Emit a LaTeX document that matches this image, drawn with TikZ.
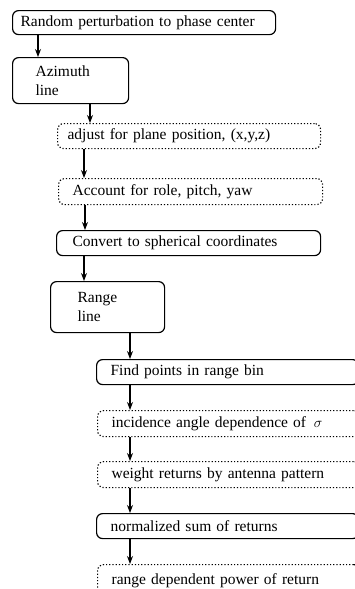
\documentclass[tikz,border=0pt]{standalone}
\usepackage{fontspec}
\setmainfont{Liberation Serif}
\usetikzlibrary{arrows.meta}
\tikzset{
  solidbox/.style={draw, line width=1.2pt, rounded corners=6pt, anchor=north west,
    align=left, inner ysep=0pt, font=\fontsize{15.5}{19}\selectfont},
  dotbox/.style={solidbox, dotted, line width=1.2pt},
  arr/.style={line width=1.2pt, -{Stealth[length=8pt,width=6pt]}}
}
\begin{document}
\begin{tikzpicture}[x=1pt,y=-1pt]
\clip (0,0) rectangle (355,589);
\fill[white] (0,0) rectangle (355,589);
% upper chain: per-line processing
\node[solidbox, minimum width=263, minimum height=24, text width=247, inner xsep=8]
  (pert) at (12,10) {Random perturbation to phase center};
\node[solidbox, minimum width=106, minimum height=46, text width=70, inner xsep=23]
  (azim) at (12,57) {Azimuth\\line};
\node[dotbox, minimum width=263, minimum height=25, text width=243, inner xsep=10]
  (plane) at (57,123) {adjust for plane position, (x,y,z)};
\node[dotbox, minimum width=264, minimum height=26, text width=236, inner xsep=14]
  (att) at (58,178) {Account for role, pitch, yaw};
\node[solidbox, minimum width=264, minimum height=25, text width=232, inner xsep=16]
  (sph) at (56,230) {Convert to spherical coordinates};
\node[solidbox, minimum width=107, minimum height=51, text width=60, inner xsep=27]
  (rng) at (50,281) {Range\\line};
% lower chain: per-bin processing
\node[solidbox, minimum width=262, minimum height=25, text width=234, inner xsep=14]
  (bin) at (96,359) {Find points in range bin};
\node[dotbox, minimum width=262, minimum height=26, text width=234, inner xsep=13]
  (inc) at (97,410) {incidence angle dependence of \,$\sigma$};
\node[dotbox, minimum width=262, minimum height=26, text width=234, inner xsep=13]
  (wgt) at (97,461) {weight returns by antenna pattern};
\node[solidbox, minimum width=262, minimum height=25, text width=234, inner xsep=14]
  (sum) at (96,513) {normalized sum of returns};
\node[dotbox, minimum width=262, minimum height=32, text width=234, inner xsep=13]
  (pow) at (97,564) {range dependent power of return\\[-4pt]};
% connectors
\draw[arr] ([xshift=26]pert.south west) -- ([xshift=26]pert.south west |- azim.north);
\draw[arr] ([xshift=78]azim.south west) -- ([xshift=78]azim.south west |- plane.north);
\draw[arr] ([xshift=27]plane.south west) -- ([xshift=27]plane.south west |- att.north);
\draw[arr] ([xshift=27]att.south west) -- ([xshift=27]att.south west |- sph.north);
\draw[arr] ([xshift=28]sph.south west) -- ([xshift=28]sph.south west |- rng.north);
\draw[arr] ([xshift=80]rng.south west) -- ([xshift=80]rng.south west |- bin.north);
\draw[arr] ([xshift=34]bin.south west) -- ([xshift=34]bin.south west |- inc.north);
\draw[arr] ([xshift=33]inc.south west) -- ([xshift=33]inc.south west |- wgt.north);
\draw[arr] ([xshift=33]wgt.south west) -- ([xshift=33]wgt.south west |- sum.north);
\draw[arr] ([xshift=34]sum.south west) -- ([xshift=34]sum.south west |- pow.north);
\end{tikzpicture}
\end{document}
